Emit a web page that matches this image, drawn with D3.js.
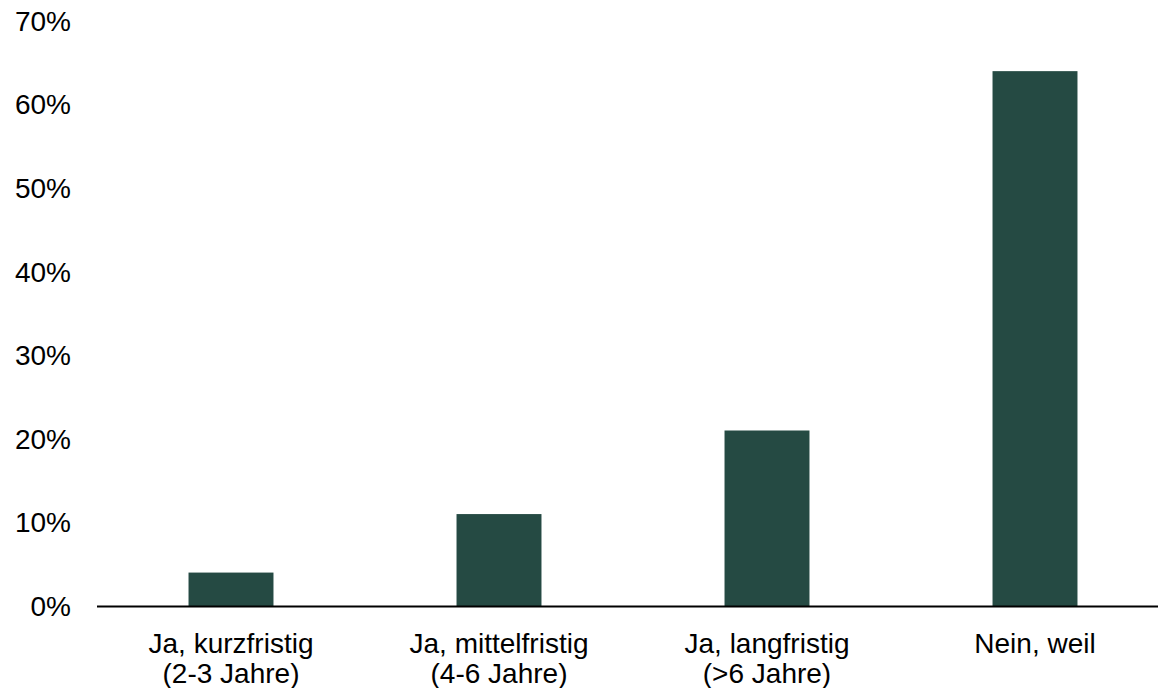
<!DOCTYPE html>
<html lang="de">
<head>
  <meta charset="UTF-8" />
  <title>Balkendiagramm</title>
  <script src="https://d3js.org/d3.v7.min.js"></script>
  <style>
    body { margin: 0; background: #fff; }
    svg { display: block; font-family: "Liberation Sans", Arial, sans-serif; }
    .tick-label { font-size: 28px; fill: #000; }
  </style>
</head>
<body>
  <svg width="1158" height="688"></svg>
  <script>
    const categories = [
      ["Ja, kurzfristig", "(2-3 Jahre)"],
      ["Ja, mittelfristig", "(4-6 Jahre)"],
      ["Ja, langfristig", "(>6 Jahre)"],
      ["Nein, weil"]
    ];
    const values = [4, 11, 21, 64];
    const yTicks = [0, 10, 20, 30, 40, 50, 60, 70];

    const svg = d3.select("svg");
    const barColor = "#254a43";

    const x = d3.scaleBand()
      .domain(d3.range(categories.length))
      .range([97, 1169])
      .paddingInner(0.683)
      .paddingOuter(0.683 / 2);

    const y = d3.scaleLinear().domain([0, 70]).range([606, 21]);

    // y tick labels
    svg.append("g").selectAll("text")
      .data(yTicks)
      .join("text")
      .attr("class", "tick-label")
      .attr("x", 71)
      .attr("y", d => y(d))
      .attr("dy", "0.35em")
      .attr("text-anchor", "end")
      .text(d => d + "%");

    // bars
    svg.append("g").selectAll("rect")
      .data(values)
      .join("rect")
      .attr("x", (d, i) => x(i))
      .attr("width", x.bandwidth())
      .attr("y", d => y(d))
      .attr("height", d => y(0) - y(d))
      .attr("fill", barColor);

    // baseline
    svg.append("line")
      .attr("x1", 97).attr("x2", 1158)
      .attr("y1", y(0) + 0.5).attr("y2", y(0) + 0.5)
      .attr("stroke", "#000")
      .attr("stroke-width", 2);

    // category labels
    const lab = svg.append("g").selectAll("text")
      .data(categories)
      .join("text")
      .attr("class", "tick-label")
      .attr("text-anchor", "middle")
      .attr("transform", (d, i) => `translate(${x(i) + x.bandwidth() / 2},653)`);

    lab.selectAll("tspan")
      .data(d => d)
      .join("tspan")
      .attr("x", 0)
      .attr("y", (d, j) => j * 30)
      .text(d => d);
  </script>
</body>
</html>
